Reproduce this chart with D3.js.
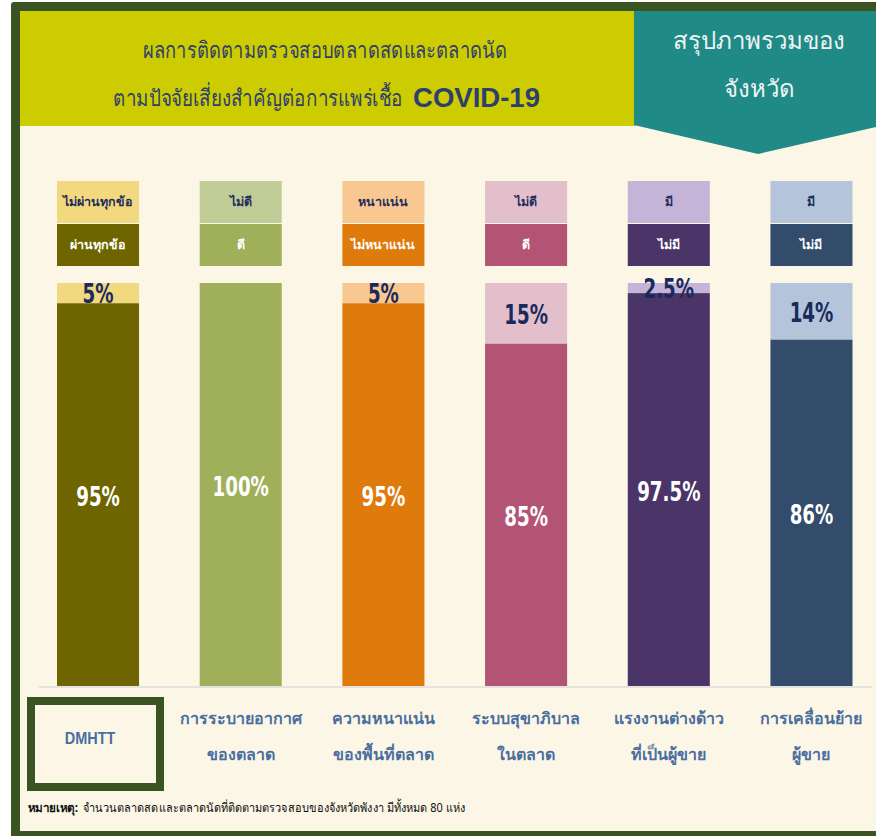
<!DOCTYPE html>
<html><head><meta charset="utf-8">
<script src="https://cdn.jsdelivr.net/npm/d3@7"></script>
<style>html,body{margin:0;padding:0;background:#fff;}svg{display:block;}</style>
</head><body>
<script>
// ---- data ----
const categories = ["DMHTT", "การระบายอากาศ", "ความหนาแน่น", "ระบบสุขาภิบาล", "แรงงานต่างด้าว", "การเคลื่อนย้าย"];
const categoryLine2 = ["", "ของตลาด", "ของพื้นที่ตลาด", "ในตลาด", "ที่เป็นผู้ขาย", "ผู้ขาย"];
const mainValues = [95, 100, 95, 85, 97.5, 86];
const otherValues = [5, 0, 5, 15, 2.5, 14];
const mainLabels = ["ผ่านทุกข้อ", "ดี", "ไม่หนาแน่น", "ดี", "ไม่มี", "ไม่มี"];
const otherLabels = ["ไม่ผ่านทุกข้อ", "ไม่ดี", "หนาแน่น", "ไม่ดี", "มี", "มี"];
const mainColors = ["#6e6400", "#a0b05a", "#de7b0c", "#b35474", "#4a3468", "#344c6c"];
const otherColors = ["#f2d87e", "#c0cc96", "#f8c890", "#e2bfcb", "#c5b4d8", "#b4c4da"];
const titleLine1 = "ผลการติดตามตรวจสอบตลาดสดและตลาดนัด";
const titleLine2 = "ตามปัจจัยเสี่ยงสำคัญต่อการแพร่เชื้อ";
const titleBold = "COVID-19";
const sideTitle = ["สรุปภาพรวมของ", "จังหวัด"];
const footLead = "หมายเหตุ:";
const footText = "จำนวนตลาดสดและตลาดนัดที่ติดตามตรวจสอบของจังหวัดพังงา มีทั้งหมด 80 แห่ง";

const W = 876, H = 836;
const svg = d3.select("body").append("svg").attr("width", W).attr("height", H);
const thai = "'Noto Sans', 'DejaVu Sans Condensed', sans-serif";
const numFont = "'DejaVu Sans Condensed', 'DejaVu Sans', sans-serif";

// frame
svg.append("rect").attr("x", 0).attr("y", 0).attr("width", W).attr("height", H).attr("fill", "#fff");
svg.append("rect").attr("x", 11).attr("y", 2).attr("width", 900).attr("height", 900).attr("rx", 3).attr("fill", "#3a5323");
svg.append("rect").attr("x", 20).attr("y", 11).attr("width", 900).attr("height", 820).attr("fill", "#fcf6e6");

// header
svg.append("rect").attr("x", 20).attr("y", 11).attr("width", 616).attr("height", 115).attr("fill", "#cccc00");
svg.append("polygon").attr("points", "634,11 876,11 876,127 758,154 634,125").attr("fill", "#1f8a86");

const sx = 0.81;
svg.append("text").attr("transform", `translate(143,58) scale(${sx},1)`)
  .attr("font-family", thai).attr("font-size", 23).attr("fill", "#2e3f6e")
  .attr("textLength", 364 / sx).attr("lengthAdjust", "spacingAndGlyphs").text(titleLine1);
svg.append("text").attr("transform", `translate(113,106) scale(${sx},1)`)
  .attr("font-family", thai).attr("font-size", 23).attr("fill", "#2e3f6e")
  .attr("textLength", 290 / sx).attr("lengthAdjust", "spacingAndGlyphs").text(titleLine2);
svg.append("text").attr("x", 413).attr("y", 107)
  .attr("font-family", "'Liberation Sans', Arial, sans-serif").attr("font-weight", "bold").attr("font-size", 28)
  .attr("fill", "#2e3f6e").attr("textLength", 127).attr("lengthAdjust", "spacingAndGlyphs").text(titleBold);

sideTitle.forEach((s, i) => {
  svg.append("text").attr("x", 759).attr("y", 49 + i * 48).attr("text-anchor", "middle")
    .attr("font-family", thai).attr("font-size", 24).attr("fill", "#eef4f2").text(s);
});

// scales
const x = d3.scaleBand().domain(categories).range([57, 852.5]).paddingInner(0.425).paddingOuter(0);
const y = d3.scaleLinear().domain([0, 100]).range([686, 283]);
const bw = x.bandwidth();

// legend boxes
const g = svg.append("g");
categories.forEach((c, i) => {
  const x0 = x(c);
  g.append("rect").attr("x", x0).attr("y", 181).attr("width", bw).attr("height", 42).attr("fill", otherColors[i]);
  g.append("rect").attr("x", x0).attr("y", 224).attr("width", bw).attr("height", 42).attr("fill", mainColors[i]);
  g.append("text").attr("x", x0 + bw / 2).attr("y", 206).attr("text-anchor", "middle")
    .attr("font-family", thai).attr("font-weight", "bold").attr("font-size", 12.5).attr("fill", "#1f2d5c").text(otherLabels[i]);
  g.append("text").attr("x", x0 + bw / 2).attr("y", 249).attr("text-anchor", "middle")
    .attr("font-family", thai).attr("font-weight", "bold").attr("font-size", 12.5).attr("fill", "#ffffff").text(mainLabels[i]);
});

// bars
function numLabel(cx, cy, txt, color) {
  g.append("text").attr("transform", `translate(${cx},${cy}) scale(0.78,1)`).attr("dy", "0.36em")
    .attr("text-anchor", "middle").attr("font-family", numFont).attr("font-weight", "bold").attr("font-size", 26)
    .attr("fill", color).text(txt);
}
categories.forEach((c, i) => {
  const x0 = x(c);
  const m = mainValues[i], o = otherValues[i];
  g.append("rect").attr("x", x0).attr("y", y(m)).attr("width", bw).attr("height", y(0) - y(m)).attr("fill", mainColors[i]);
  if (o > 0) {
    g.append("rect").attr("x", x0).attr("y", y(m + o)).attr("width", bw).attr("height", y(m) - y(m + o)).attr("fill", otherColors[i]);
    numLabel(x0 + bw / 2, (y(m) + y(m + o)) / 2 + 1, o + "%", "#1a2a5c");
  }
  numLabel(x0 + bw / 2, (y(0) + y(m)) / 2 + 2, m + "%", "#ffffff");
});

// baseline
svg.append("line").attr("x1", 39).attr("x2", 872).attr("y1", 687).attr("y2", 687)
  .attr("stroke", "#dcdcdc").attr("stroke-width", 1.5);

// category labels
svg.append("rect").attr("x", 31).attr("y", 701).attr("width", 129).attr("height", 86)
  .attr("fill", "none").attr("stroke", "#3a5323").attr("stroke-width", 8);
categories.forEach((c, i) => {
  const cx = x(c) + bw / 2;
  if (categoryLine2[i] === "") {
    svg.append("text").attr("transform", `translate(${cx - 8},744) scale(0.85,1)`).attr("text-anchor", "middle")
      .attr("font-family", "'Liberation Sans', Arial, sans-serif").attr("font-weight", "bold").attr("font-size", 17)
      .attr("fill", "#4a6ea0").text(c);
  } else {
    svg.append("text").attr("x", cx).attr("y", 724).attr("text-anchor", "middle")
      .attr("font-family", thai).attr("font-weight", "bold").attr("font-size", 16).attr("fill", "#4a6ea0").text(c);
    svg.append("text").attr("x", cx).attr("y", 760).attr("text-anchor", "middle")
      .attr("font-family", thai).attr("font-weight", "bold").attr("font-size", 16).attr("fill", "#4a6ea0").text(categoryLine2[i]);
  }
});

// footnote
svg.append("text").attr("x", 28).attr("y", 812).attr("font-family", thai).attr("font-size", 12.5)
  .attr("font-weight", "bold").attr("fill", "#111")
  .attr("textLength", 50).attr("lengthAdjust", "spacingAndGlyphs").text(footLead);
svg.append("text").attr("x", 83).attr("y", 812).attr("font-family", thai).attr("font-size", 12.5).attr("fill", "#111")
  .attr("textLength", 382).attr("lengthAdjust", "spacingAndGlyphs").text(footText);
</script>
</body></html>
